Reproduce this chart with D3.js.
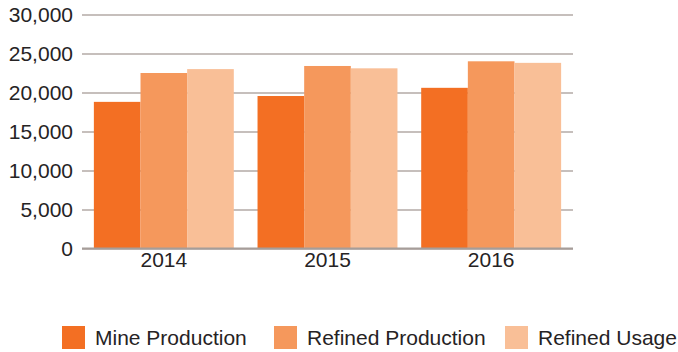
<!DOCTYPE html>
<html>
<head>
<meta charset="utf-8">
<script src="https://cdn.jsdelivr.net/npm/d3@7"></script>
<style>
  html, body { margin: 0; padding: 0; background: #fff; }
  svg { display: block; font-family: "Liberation Sans", Arial, Helvetica, sans-serif; }
</style>
</head>
<body>
<svg id="chart" width="678" height="352"></svg>
<script>
// Years on the x axis
const years = ["2014", "2015", "2016"];
// Series names (legend order)
const seriesNames = ["Mine Production", "Refined Production", "Refined Usage"];
// Values per series, one per year
const mineProduction = [18800, 19550, 20600];
const refinedProduction = [22500, 23400, 24000];
const refinedUsage = [23000, 23100, 23800];
// Y axis ticks
const yTicks = [0, 5000, 10000, 15000, 20000, 25000, 30000];

const colors = ["#F36F23", "#F5985C", "#F9BF97"];
const seriesValues = [mineProduction, refinedProduction, refinedUsage];
const textColor = "#262324";
const fontSize = 21;

const svg = d3.select("#chart");
const plot = { left: 82, right: 573, top: 14.5, bottom: 248.5 };

const x = d3.scaleBand().domain(years).range([plot.left, plot.right])
  .paddingInner(0.145).paddingOuter(0.0725);
const xs = d3.scaleBand().domain(seriesNames).range([0, x.bandwidth()]);
const y = d3.scaleLinear().domain([0, 30000]).range([plot.bottom, plot.top]);

// Horizontal gridlines with value labels
const yAxis = d3.axisLeft(y).tickValues(yTicks)
  .tickFormat(d3.format(",")).tickSize(-(plot.right - plot.left)).tickPadding(9);
const gy = svg.append("g").attr("transform", `translate(${plot.left},0)`).call(yAxis);
gy.select(".domain").remove();
gy.selectAll(".tick line").attr("stroke", "#b3aaa6").attr("stroke-width", 1.5);
gy.selectAll(".tick text").attr("fill", textColor).attr("font-size", fontSize);

// Bars
const groups = svg.append("g").selectAll("g").data(years).join("g")
  .attr("transform", d => `translate(${x(d)},0)`);
groups.selectAll("rect")
  .data((d, i) => seriesNames.map((s, k) => ({ s, k, v: seriesValues[k][i] })))
  .join("rect")
  .attr("x", d => xs(d.s))
  .attr("width", xs.bandwidth())
  .attr("y", d => y(d.v))
  .attr("height", d => y(0) - y(d.v))
  .attr("fill", d => colors[d.k]);

// Baseline
svg.append("line")
  .attr("x1", plot.left).attr("x2", plot.right)
  .attr("y1", y(0)).attr("y2", y(0))
  .attr("stroke", "#a69d99").attr("stroke-width", 2);

// Year labels
const xAxis = d3.axisBottom(x).tickSize(0).tickPadding(4);
const gx = svg.append("g").attr("transform", `translate(0,${plot.bottom})`).call(xAxis);
gx.select(".domain").remove();
gx.selectAll(".tick text").attr("fill", textColor).attr("font-size", fontSize);

// Legend
const legendX = [62, 274, 505];
const legend = svg.append("g").selectAll("g").data(seriesNames).join("g")
  .attr("transform", (d, i) => `translate(${legendX[i]},326)`);
legend.append("rect").attr("width", 23).attr("height", 23).attr("fill", (d, i) => colors[i]);
legend.append("text").attr("x", 33).attr("y", 19)
  .attr("font-size", fontSize).attr("fill", textColor).text(d => d);
</script>
</body>
</html>
